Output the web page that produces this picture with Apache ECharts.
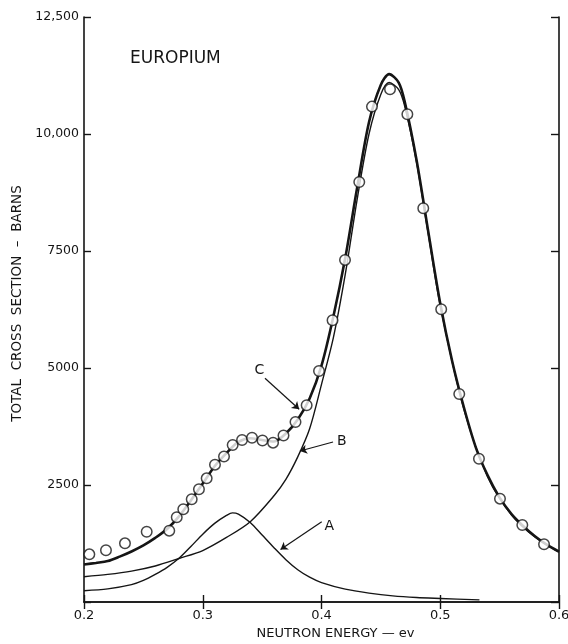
<!DOCTYPE html>
<html>
<head>
<meta charset="utf-8">
<script src="https://cdn.jsdelivr.net/npm/echarts@6/dist/echarts.min.js"></script>
<style>
  html, body { margin: 0; padding: 0; background: #fff; }
  #chart { width: 568px; height: 644px; }
</style>
</head>
<body>
<div id="chart"></div>
<script>
// curve C: total cross section (thick)
const energyC = [0.20, 0.21, 0.22, 0.23, 0.24, 0.25, 0.26, 0.27, 0.28, 0.29, 0.30, 0.31, 0.32, 0.33, 0.34, 0.35, 0.36, 0.37, 0.38, 0.39, 0.40, 0.41, 0.42, 0.43, 0.44, 0.45, 0.457, 0.465, 0.47, 0.48, 0.49, 0.50, 0.51, 0.52, 0.53, 0.54, 0.55, 0.56, 0.57, 0.58, 0.59, 0.60]
const totalC = [800, 835, 875, 970, 1080, 1210, 1370, 1560, 1830, 2170, 2530, 2900, 3180, 3420, 3500, 3460, 3430, 3600, 3900, 4350, 5050, 6100, 7350, 8850, 10250, 11050, 11280, 11100, 10700, 9450, 7900, 6380, 5150, 4150, 3300, 2700, 2230, 1880, 1620, 1400, 1220, 1075]

// curve B: 0.46 ev resonance
const energyB = [0.20, 0.22, 0.24, 0.26, 0.28, 0.30, 0.32, 0.34, 0.36, 0.37, 0.38, 0.39, 0.40, 0.41, 0.42, 0.43, 0.44, 0.45, 0.457, 0.465, 0.47, 0.48, 0.49, 0.50, 0.52, 0.54, 0.56, 0.58, 0.60]
const curveB = [541, 590, 660, 770, 930, 1100, 1380, 1716, 2270, 2620, 3100, 3700, 4650, 5650, 7000, 8600, 10000, 10850, 11100, 10950, 10600, 9400, 7850, 6330, 4110, 2670, 1860, 1385, 1065]

// curve A: 0.32 ev resonance
const energyA = [0.20, 0.22, 0.24, 0.25, 0.26, 0.27, 0.28, 0.29, 0.30, 0.31, 0.32, 0.325, 0.33, 0.34, 0.35, 0.36, 0.37, 0.38, 0.39, 0.40, 0.42, 0.44, 0.46, 0.48, 0.50, 0.533]
const curveA = [241, 280, 370, 460, 590, 740, 933, 1185, 1450, 1680, 1850, 1905, 1880, 1700, 1430, 1160, 905, 690, 530, 415, 275, 190, 130, 95, 75, 45]

// measured points (open circles)
const energyPts = [0.2045, 0.2185, 0.2345, 0.2528, 0.2718, 0.2781, 0.2836, 0.2907, 0.2968, 0.3033, 0.3103, 0.3179, 0.3252, 0.3331, 0.3415, 0.3503, 0.3592, 0.3680, 0.3781, 0.3875, 0.3979, 0.4093, 0.4198, 0.4318, 0.4425, 0.4577, 0.4723, 0.4857, 0.5008, 0.5160, 0.5326, 0.5503, 0.5691, 0.5874]
const measured = [1019, 1105, 1254, 1502, 1524, 1810, 1981, 2195, 2408, 2643, 2934, 3110, 3355, 3462, 3509, 3451, 3404, 3558, 3847, 4204, 4936, 6020, 7309, 8975, 10585, 10956, 10422, 8413, 6255, 4445, 3062, 2208, 1646, 1233]

const xTicks = ['0.2', '0.3', '0.4', '0.5', '0.6']
const yTicks = { 2500: '2500', 5000: '5000', 7500: '7500', 10000: '10,000', 12500: '12,500' }

const ink = '#151515'
const font = 'DejaVu Sans'

const zip = (xs, ys) => xs.map((x, i) => [x, ys[i]])

const chart = echarts.init(document.getElementById('chart'), null, { renderer: 'canvas' })

const arrowStyle = { color: ink, width: 1.2, type: 'solid' }
const arrow = (from, to) => [
  { coord: from, symbol: 'none' },
  { coord: to, symbol: 'arrow', symbolSize: 7 },
]
const tag = (text, at) => ({
  coord: at,
  symbol: 'circle',
  symbolSize: 1,
  itemStyle: { color: 'transparent' },
  label: { show: true, formatter: text, position: 'inside', color: ink, fontFamily: font, fontSize: 14 },
})

chart.setOption({
  backgroundColor: '#fff',
  animation: false,
  grid: { left: 84, right: 9, top: 17, bottom: 42, outerBoundsMode: 'none' },
  graphic: [
    {
      type: 'text', left: 130, top: 50,
      style: { text: 'EUROPIUM', fontFamily: font, fontSize: 17, fill: ink },
    },
  ],
  xAxis: [
    {
      type: 'value', min: 0.2, max: 0.6, interval: 0.1,
      name: 'NEUTRON ENERGY — ev',
      nameLocation: 'middle', nameGap: 25,
      nameTextStyle: { color: ink, fontFamily: font, fontSize: 13, padding: [0, 0, 0, 28] },
      axisLine: { show: true, lineStyle: { color: ink, width: 1.6 } },
      axisTick: { show: true, inside: true, length: 7, lineStyle: { color: ink, width: 1.4 } },
      axisLabel: {
        color: ink, fontFamily: font, fontSize: 13, margin: 7,
        formatter: (v) => xTicks[Math.round((v - 0.2) * 10)] ?? '',
      },
      splitLine: { show: false },
    },
    {
      type: 'value', position: 'top', min: 0.2, max: 0.6, interval: 0.1,
      axisLine: { show: true, lineStyle: { color: ink, width: 1.6 } },
      axisTick: { show: true, inside: true, length: 7, lineStyle: { color: ink, width: 1.4 } },
      axisLabel: { show: false },
      splitLine: { show: false },
    },
  ],
  yAxis: [
    {
      type: 'value', min: 0, max: 12500, interval: 2500,
      name: 'TOTAL  CROSS  SECTION  –  BARNS',
      nameLocation: 'middle', nameGap: 55,
      nameTextStyle: { color: ink, fontFamily: font, fontSize: 13.5, padding: [0, 0, 0, 12] },
      axisLine: { show: true, lineStyle: { color: ink, width: 1.6 } },
      axisTick: { show: true, inside: true, length: 7, lineStyle: { color: ink, width: 1.4 } },
      axisLabel: {
        color: ink, fontFamily: font, fontSize: 12.5, margin: 5,
        formatter: (v) => yTicks[v] ?? '',
      },
      splitLine: { show: false },
    },
    {
      type: 'value', position: 'right', min: 0, max: 12500, interval: 2500,
      axisLine: { show: true, lineStyle: { color: ink, width: 1.6 } },
      axisTick: { show: true, inside: true, length: 8, lineStyle: { color: ink, width: 1.4 } },
      axisLabel: { show: false },
      splitLine: { show: false },
    },
  ],
  series: [
    {
      name: 'A', type: 'line', data: zip(energyA, curveA),
      smooth: 0.3, symbol: 'none',
      lineStyle: { color: ink, width: 1.4 },
      markLine: {
        silent: true, symbol: ['none', 'arrow'], lineStyle: arrowStyle, label: { show: false },
        data: [
          arrow([0.4002, 1716], [0.3655, 1120]),
          arrow([0.4097, 3419], [0.3818, 3227]),
          arrow([0.3524, 4780], [0.3812, 4120]),
        ],
      },
      markPoint: {
        silent: true,
        data: [tag('A', [0.4065, 1620]), tag('B', [0.4170, 3440]), tag('C', [0.3476, 4960])],
      },
    },
    {
      name: 'B', type: 'line', data: zip(energyB, curveB),
      smooth: 0.3, symbol: 'none',
      lineStyle: { color: ink, width: 1.4 },
    },
    {
      name: 'C', type: 'line', data: zip(energyC, totalC),
      smooth: 0.3, symbol: 'none',
      lineStyle: { color: ink, width: 2.6 },
    },
    {
      name: 'measured', type: 'scatter', data: zip(energyPts, measured),
      symbol: 'circle', symbolSize: 10.5, z: 5,
      itemStyle: { color: '#fff', borderColor: ink, borderWidth: 1.5 },
    },
  ],
})
</script>
</body>
</html>
